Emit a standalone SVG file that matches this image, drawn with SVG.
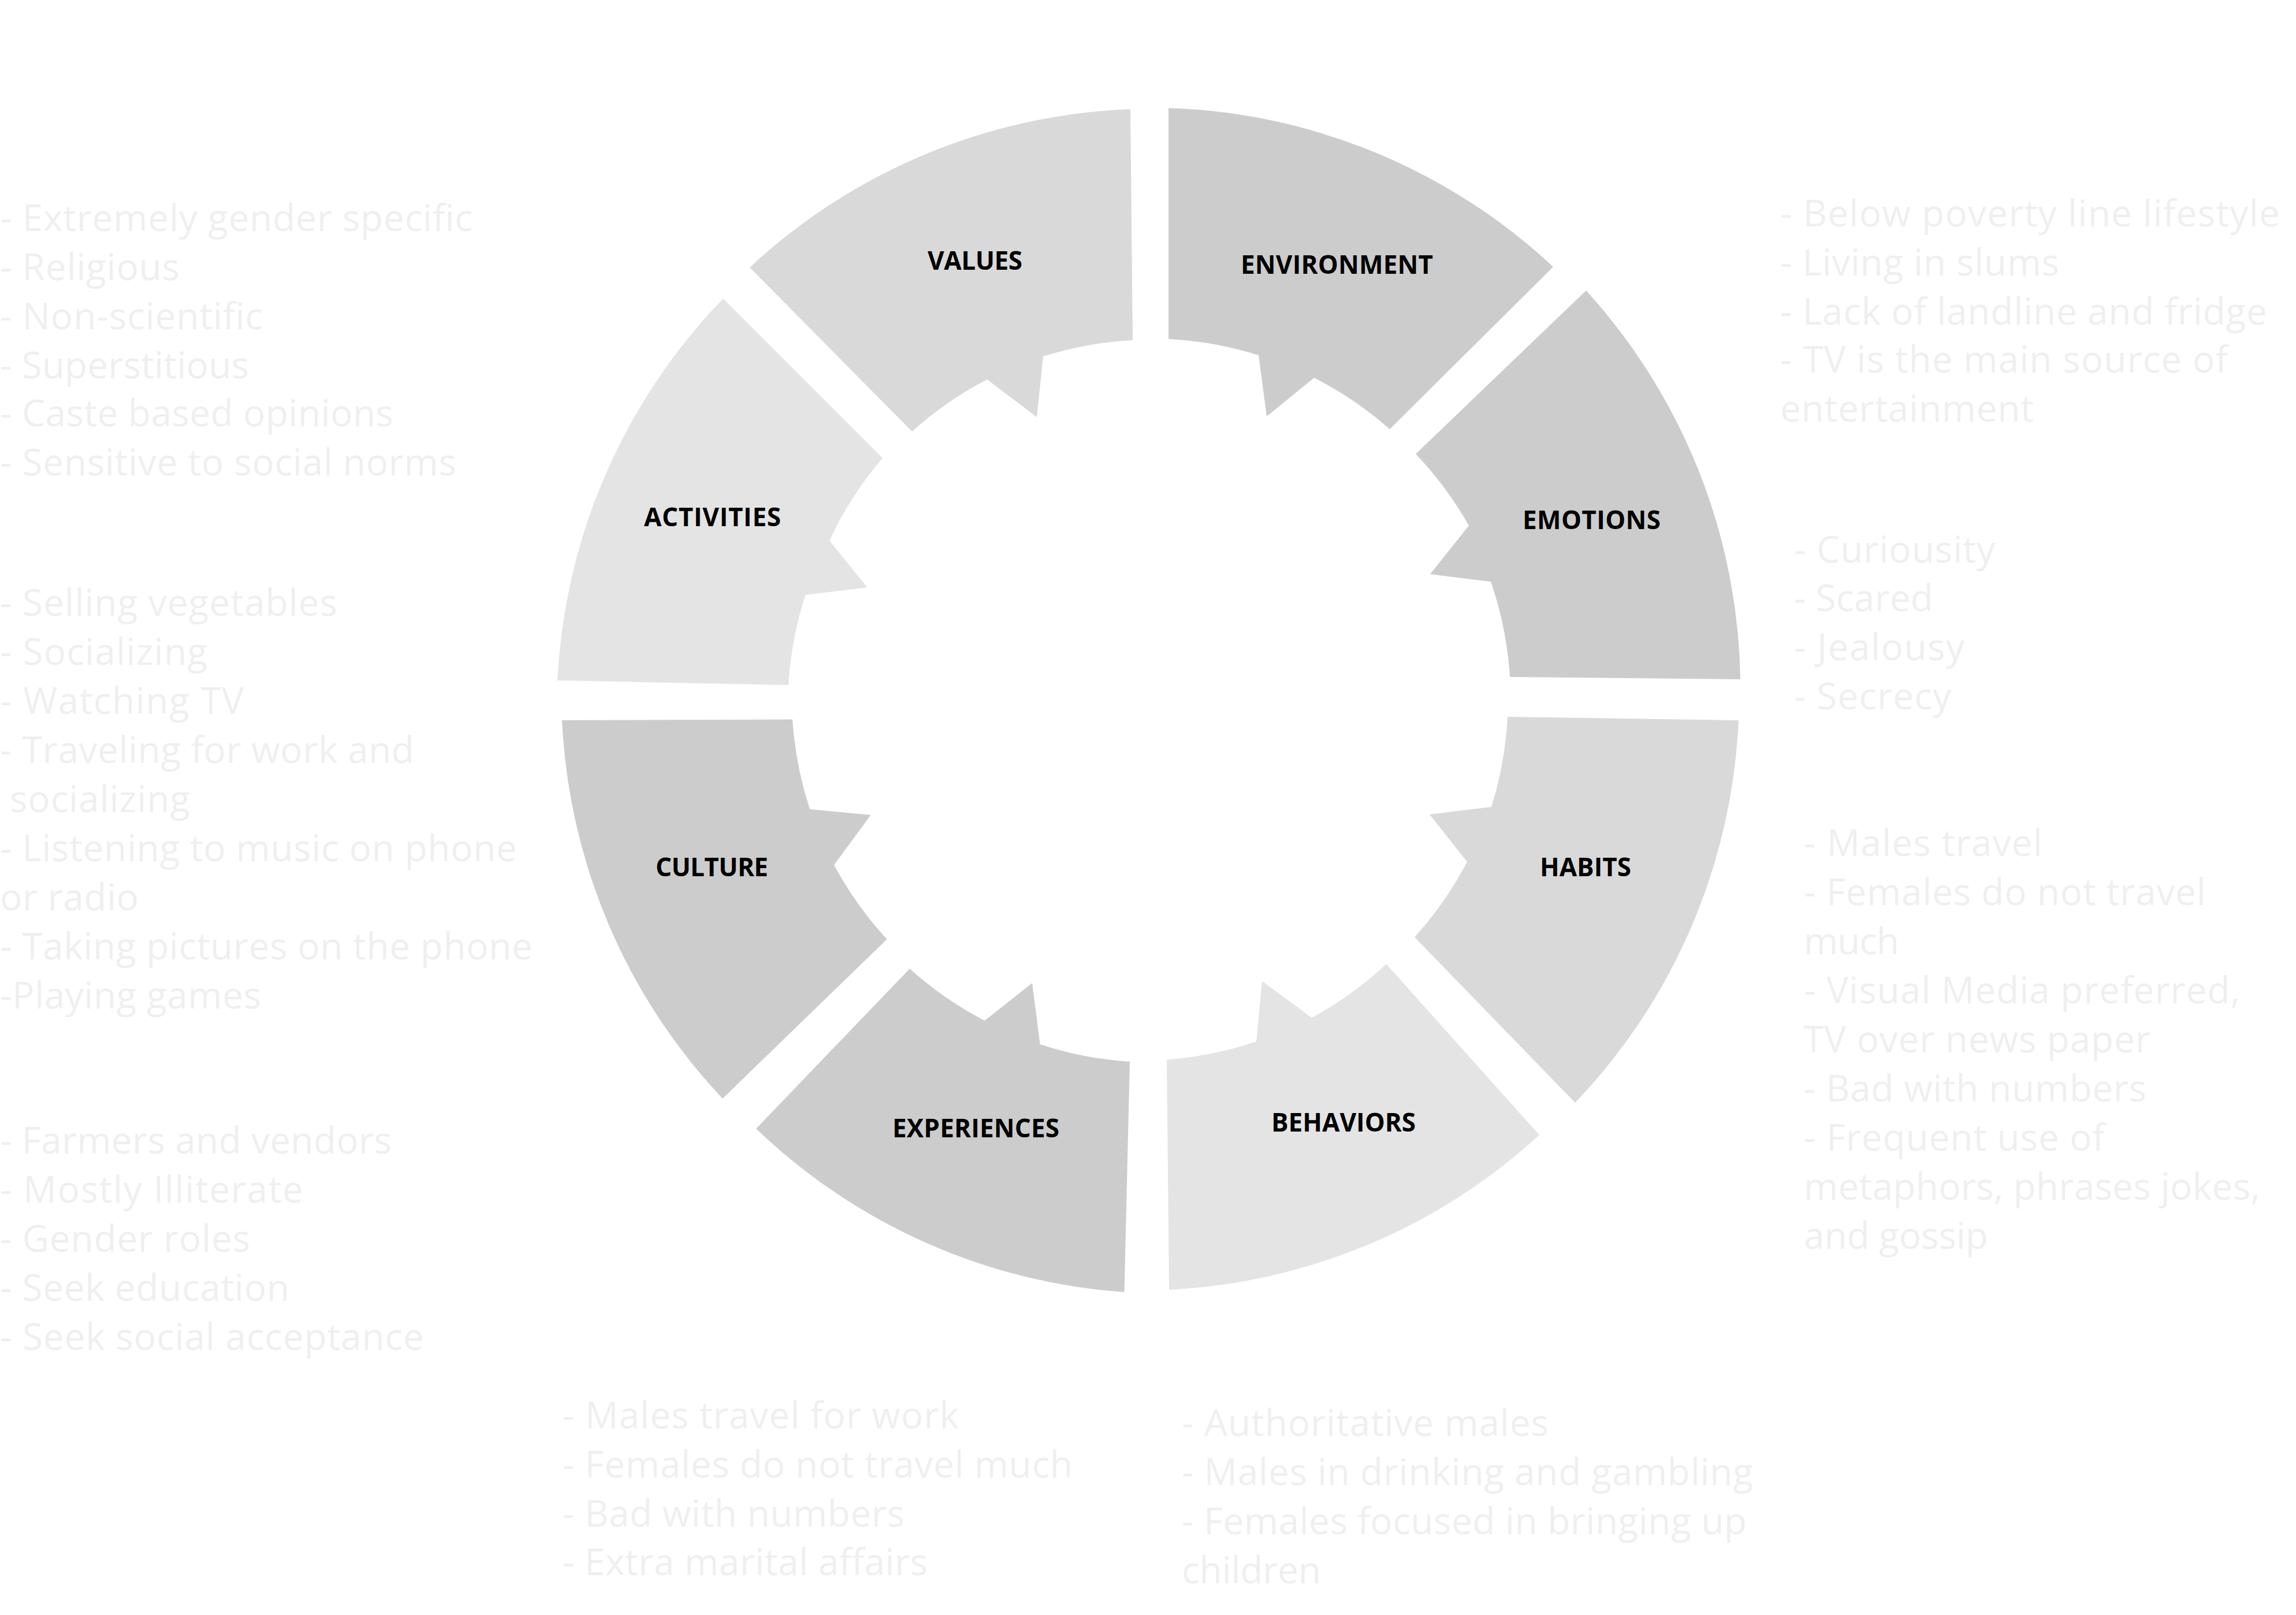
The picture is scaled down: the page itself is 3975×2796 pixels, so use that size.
<svg xmlns="http://www.w3.org/2000/svg" width="3975" height="2796" viewBox="0 0 3975 2796">
<style>
.seg{stroke:none}
.c1{fill:#cccccc}
.c2{fill:#d9d9d9}
.c3{fill:#e4e4e4}
.lbl{font-family:"Open Sans","Liberation Sans",sans-serif;font-weight:700;font-size:44px;fill:#000000}
.lst{font-family:"Open Sans","Liberation Sans",sans-serif;font-size:64px;fill:#efefef}
</style>
<rect x="0" y="0" width="3975" height="2796" fill="#ffffff"/>
<g id="connectors"/>
<g id="node-values">
<path class="seg c2" d="M1957 189 L1961 589 A623 623 0 0 0 1806 617 L1795 722 L1709 657 A623 623 0 0 0 1579 747 L1298 463 A1024 1024 0 0 1 1957 189 Z"/>
<text class="lbl" x="1606" y="467" textLength="164">VALUES</text>
</g>
<g id="node-environment">
<path class="seg c1" d="M2023 187 L2023 587 A623 623 0 0 1 2179 615 L2193 721 L2275 654 A623 623 0 0 1 2406 743 L2689 462 A1024 1024 0 0 0 2023 187 Z"/>
<text class="lbl" x="2148" y="474" textLength="333">ENVIRONMENT</text>
</g>
<g id="node-activities">
<path class="seg c3" d="M1252 517 A1024 1024 0 0 0 965 1178 L1365 1186 A623 623 0 0 1 1394.5 1030 L1501.5 1017 L1436 936 A623 623 0 0 1 1528 793 Z"/>
<text class="lbl" x="1115" y="911" textLength="237">ACTIVITIES</text>
</g>
<g id="node-emotions">
<path class="seg c1" d="M2746 503 L2451 786 A623 623 0 0 1 2543 910 L2476 994 L2581 1007 A623 623 0 0 1 2614 1172 L3013 1176 A1024 1024 0 0 0 2746 503 Z"/>
<text class="lbl" x="2636" y="916" textLength="239">EMOTIONS</text>
</g>
<g id="node-culture">
<path class="seg c1" d="M973 1247 L1372 1245.5 A623 623 0 0 0 1402 1401 L1507.5 1411 L1444 1497.5 A623 623 0 0 0 1535.5 1626 L1251 1902 A1024 1024 0 0 1 973 1247 Z"/>
<text class="lbl" x="1135" y="1517" textLength="195">CULTURE</text>
</g>
<g id="node-habits">
<path class="seg c2" d="M2610 1241 L3010 1247 A1024 1024 0 0 1 2727 1909 L2449 1622.5 A623 623 0 0 0 2540 1492 L2475 1410 L2582 1397 A623 623 0 0 0 2610 1241 Z"/>
<text class="lbl" x="2666" y="1517" textLength="158">HABITS</text>
</g>
<g id="node-experiences">
<path class="seg c1" d="M1575 1677 A623 623 0 0 0 1704.6 1767 L1787 1702 L1800.6 1808 A623 623 0 0 0 1956 1838 L1946.5 2237 A1024 1024 0 0 1 1309 1954 Z"/>
<text class="lbl" x="1545" y="1969" textLength="289">EXPERIENCES</text>
</g>
<g id="node-behaviors">
<path class="seg c3" d="M2020 1834.5 A623 623 0 0 0 2175 1803 L2185 1698.5 L2271 1762 A623 623 0 0 0 2400 1669 L2665 1965 A1024 1024 0 0 1 2024 2233 Z"/>
<text class="lbl" x="2201" y="1959" textLength="250">BEHAVIORS</text>
</g>
<g id="list-values">
<text class="lst" x="0" y="400" textLength="818">- Extremely gender specific</text>
<text class="lst" x="0" y="485" textLength="311">- Religious</text>
<text class="lst" x="0" y="570" textLength="455">- Non-scientific</text>
<text class="lst" x="0" y="655" textLength="431">- Superstitious</text>
<text class="lst" x="0" y="738" textLength="681">- Caste based opinions</text>
<text class="lst" x="0" y="823" textLength="790">- Sensitive to social norms</text>
</g>
<g id="list-activities">
<text class="lst" x="0" y="1066" textLength="584">- Selling vegetables</text>
<text class="lst" x="0" y="1151" textLength="359">- Socializing</text>
<text class="lst" x="0" y="1236" textLength="422">- Watching TV</text>
<text class="lst" x="0" y="1321" textLength="717">- Traveling for work and</text>
<text class="lst" x="17" y="1406" textLength="312">socializing</text>
<text class="lst" x="0" y="1491" textLength="895">- Listening to music on phone</text>
<text class="lst" x="0" y="1576" textLength="240">or radio</text>
<text class="lst" x="0" y="1661" textLength="922">- Taking pictures on the phone</text>
<text class="lst" x="0" y="1746" textLength="452">-Playing games</text>
</g>
<g id="list-culture">
<text class="lst" x="0" y="1997" textLength="678">- Farmers and vendors</text>
<text class="lst" x="0" y="2082" textLength="525">- Mostly Illiterate</text>
<text class="lst" x="0" y="2167" textLength="433">- Gender roles</text>
<text class="lst" x="0" y="2252" textLength="501">- Seek education</text>
<text class="lst" x="0" y="2337" textLength="734">- Seek social acceptance</text>
</g>
<g id="list-experiences">
<text class="lst" x="974" y="2473" textLength="686">- Males travel for work</text>
<text class="lst" x="974" y="2558" textLength="883">- Females do not travel much</text>
<text class="lst" x="974" y="2643" textLength="592">- Bad with numbers</text>
<text class="lst" x="974" y="2727" textLength="632">- Extra marital affairs</text>
</g>
<g id="list-behaviors">
<text class="lst" x="2046" y="2486" textLength="635">- Authoritative males</text>
<text class="lst" x="2046" y="2571" textLength="989">- Males in drinking and gambling</text>
<text class="lst" x="2046" y="2656" textLength="978">- Females focused in bringing up</text>
<text class="lst" x="2046" y="2741" textLength="241">children</text>
</g>
<g id="list-environment">
<text class="lst" x="3082" y="392" textLength="865">- Below poverty line lifestyle</text>
<text class="lst" x="3082" y="477" textLength="483">- Living in slums</text>
<text class="lst" x="3082" y="562" textLength="843">- Lack of landline and fridge</text>
<text class="lst" x="3082" y="645" textLength="775">- TV is the main source of</text>
<text class="lst" x="3082" y="730" textLength="439">entertainment</text>
</g>
<g id="list-emotions">
<text class="lst" x="3106" y="974" textLength="348">- Curiousity</text>
<text class="lst" x="3106" y="1058" textLength="241">- Scared</text>
<text class="lst" x="3106" y="1143" textLength="295">- Jealousy</text>
<text class="lst" x="3106" y="1228" textLength="272">- Secrecy</text>
</g>
<g id="list-habits">
<text class="lst" x="3123" y="1482" textLength="413">- Males travel</text>
<text class="lst" x="3123" y="1567" textLength="696">- Females do not travel</text>
<text class="lst" x="3123" y="1652" textLength="165">much</text>
<text class="lst" x="3123" y="1737" textLength="755">- Visual Media preferred,</text>
<text class="lst" x="3122" y="1822" textLength="601">TV over news paper</text>
<text class="lst" x="3123" y="1907" textLength="593">- Bad with numbers</text>
<text class="lst" x="3123" y="1992" textLength="521">- Frequent use of</text>
<text class="lst" x="3123" y="2077" textLength="790">metaphors, phrases jokes,</text>
<text class="lst" x="3123" y="2162" textLength="319">and gossip</text>
</g>
</svg>
